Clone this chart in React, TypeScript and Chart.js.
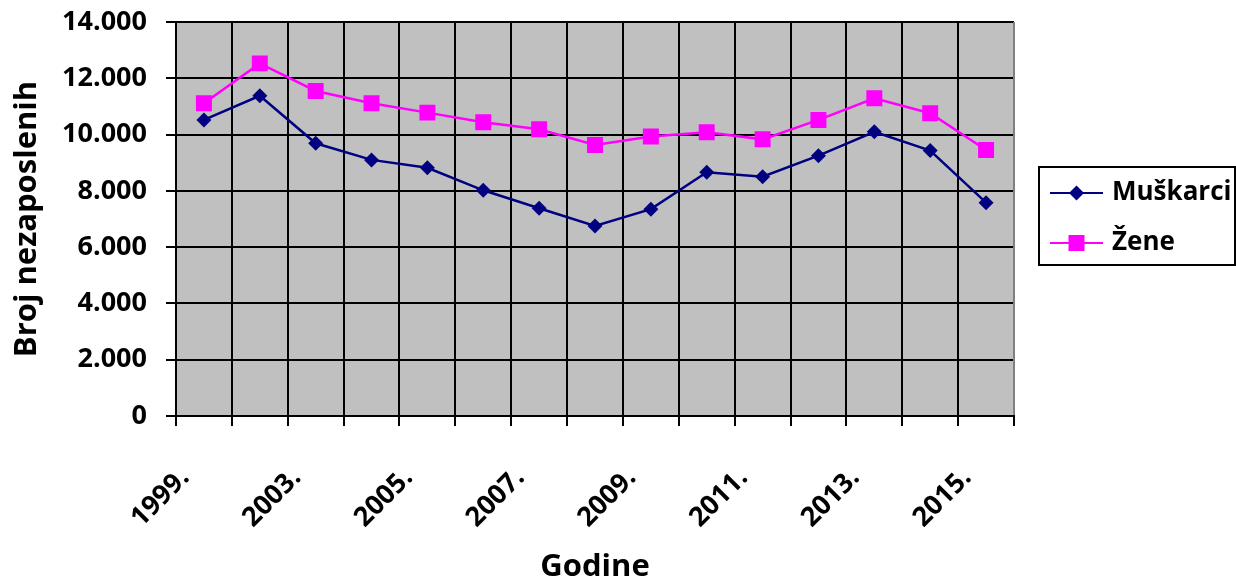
import React, { useEffect, useRef } from 'react';
import { Chart, registerables } from 'chart.js';

Chart.register(...registerables);

const categories = ['1999.', '2002.', '2003.', '2004.', '2005.', '2006.', '2007.', '2008.', '2009.', '2010.', '2011.', '2012.', '2013.', '2014.', '2015.'];
const muskarci = [10520, 11380, 9690, 9100, 8820, 8020, 7380, 6750, 7350, 8660, 8500, 9250, 10100, 9430, 7580];
const zene = [11110, 12530, 11550, 11110, 10780, 10440, 10190, 9630, 9930, 10080, 9830, 10520, 11290, 10760, 9450];
const seriesNames = ['Muškarci', 'Žene'];
const seriesColors = ['#000080', '#FF00FF'];
const seriesMarkers = ['rectRot', 'rect'];
const yTitle = 'Broj nezaposlenih';
const xTitle = 'Godine';
const yMin = 0;
const yMax = 14000;
const yStep = 2000;

const FONT = "'Open Sans', sans-serif";

const formatThousands = (v: number) => {
  if (v === 0) return '0';
  const s = String(Math.round(v));
  return s.replace(/\B(?=(\d{3})+(?!\d))/g, '.');
};

const plotBg = {
  id: 'plotBg',
  beforeDraw(chart: any) {
    const { ctx, chartArea } = chart;
    ctx.save();
    ctx.fillStyle = '#C0C0C0';
    ctx.fillRect(chartArea.left, chartArea.top, chartArea.right - chartArea.left, chartArea.bottom - chartArea.top);
    ctx.restore();
  },
  afterDatasetsDraw(chart: any) {
    const { ctx, chartArea } = chart;
    ctx.save();
    ctx.strokeStyle = '#808080';
    ctx.lineWidth = 2;
    ctx.beginPath();
    ctx.moveTo(chartArea.right, chartArea.top);
    ctx.lineTo(chartArea.right, chartArea.bottom - 1);
    ctx.stroke();
    ctx.restore();
  },
};

const drawMarker = (ctx: CanvasRenderingContext2D, type: string, x: number, y: number, color: string) => {
  ctx.fillStyle = color;
  ctx.beginPath();
  if (type === 'rectRot') {
    const r = 7.5;
    ctx.moveTo(x, y - r);
    ctx.lineTo(x + r, y);
    ctx.lineTo(x, y + r);
    ctx.lineTo(x - r, y);
    ctx.closePath();
  } else {
    const h = 8;
    ctx.rect(x - h, y - h, 2 * h, 2 * h);
  }
  ctx.fill();
};

const customLegend = {
  id: 'customLegend',
  afterDraw(chart: any) {
    const { ctx, chartArea } = chart;
    const left = chartArea.right + 25;
    const top = 167;
    const width = 196;
    const height = 98;
    ctx.save();
    ctx.fillStyle = '#FFFFFF';
    ctx.fillRect(left, top, width, height);
    ctx.strokeStyle = '#000000';
    ctx.lineWidth = 2;
    ctx.strokeRect(left, top, width, height);
    chart.data.datasets.forEach((ds: any, i: number) => {
      const y = top + 26 + i * 50;
      const x0 = left + 11;
      const x1 = left + 64;
      ctx.strokeStyle = ds.borderColor;
      ctx.lineWidth = 2;
      ctx.beginPath();
      ctx.moveTo(x0, y);
      ctx.lineTo(x1, y);
      ctx.stroke();
      drawMarker(ctx, seriesMarkers[i], (x0 + x1) / 2, y, ds.borderColor);
      ctx.fillStyle = '#000000';
      ctx.font = `bold 26px ${FONT}`;
      ctx.textAlign = 'left';
      ctx.textBaseline = 'middle';
      ctx.fillText(ds.label, left + 73, y);
    });
    ctx.restore();
  },
};

export default function App() {
  const canvasRef = useRef<HTMLCanvasElement | null>(null);

  useEffect(() => {
    if (!canvasRef.current) return;
    const chart = new Chart(canvasRef.current, {
      type: 'line',
      data: {
        labels: categories,
        datasets: [
          {
            label: seriesNames[0],
            data: muskarci,
            borderColor: seriesColors[0],
            backgroundColor: seriesColors[0],
            borderWidth: 2.5,
            pointStyle: seriesMarkers[0] as any,
            pointRadius: 7.5,
            pointBorderWidth: 0,
            tension: 0,
          },
          {
            label: seriesNames[1],
            data: zene,
            borderColor: seriesColors[1],
            backgroundColor: seriesColors[1],
            borderWidth: 2.5,
            pointStyle: seriesMarkers[1] as any,
            pointRadius: 11.3,
            pointBorderWidth: 0,
            tension: 0,
          },
        ],
      },
      options: {
        responsive: false,
        animation: false,
        layout: { padding: { left: 0, top: 22, right: 222, bottom: 0 } },
        plugins: {
          legend: { display: false },
          tooltip: { enabled: false },
        },
        scales: {
          x: {
            type: 'category',
            offset: true,
            grid: {
              offset: true,
              color: '#000000',
              lineWidth: 2,
              drawTicks: true,
              tickLength: 10,
              tickColor: '#000000',
              tickWidth: 2,
            },
            border: { display: true, color: '#000000', width: 2 },
            ticks: {
              autoSkip: false,
              minRotation: 45,
              maxRotation: 45,
              padding: 36,
              labelOffset: -19,
              color: '#000000',
              font: { family: FONT, size: 27, weight: 'bold' },
              callback: (_v: any, i: number) => (i % 2 === 0 ? categories[i] : ''),
            },
            title: {
              display: true,
              text: xTitle,
              color: '#000000',
              font: { family: FONT, size: 31, weight: 'bold', lineHeight: 1 },
              padding: { top: 0, bottom: 0 },
            },
            afterFit: (scale: any) => {
              scale.height = 167;
              scale.paddingLeft = 0;
              scale.paddingRight = 0;
            },
          },
          y: {
            min: yMin,
            max: yMax,
            grid: {
              color: '#000000',
              lineWidth: 2,
              drawTicks: true,
              tickLength: 10,
              tickColor: '#000000',
              tickWidth: 2,
            },
            border: { display: true, color: '#000000', width: 2 },
            ticks: {
              stepSize: yStep,
              padding: 19,
              color: '#000000',
              font: { family: FONT, size: 27, weight: 'bold' },
              callback: (v: any) => formatThousands(Number(v)),
            },
            title: {
              display: true,
              text: yTitle,
              color: '#000000',
              font: { family: FONT, size: 31, weight: 'bold', lineHeight: 1 },
              padding: { top: 12, bottom: 0 },
            },
            afterFit: (scale: any) => {
              scale.width = 176;
              scale.paddingTop = 0;
              scale.paddingBottom = 0;
            },
          },
        },
      },
      plugins: [plotBg, customLegend],
    });
    return () => chart.destroy();
  }, []);

  return (
    <div style={{ position: 'absolute', left: 0, top: 0, width: 1236, height: 583, background: '#FFFFFF' }}>
      <canvas ref={canvasRef} width={1236} height={583} style={{ display: 'block' }} />
    </div>
  );
}
